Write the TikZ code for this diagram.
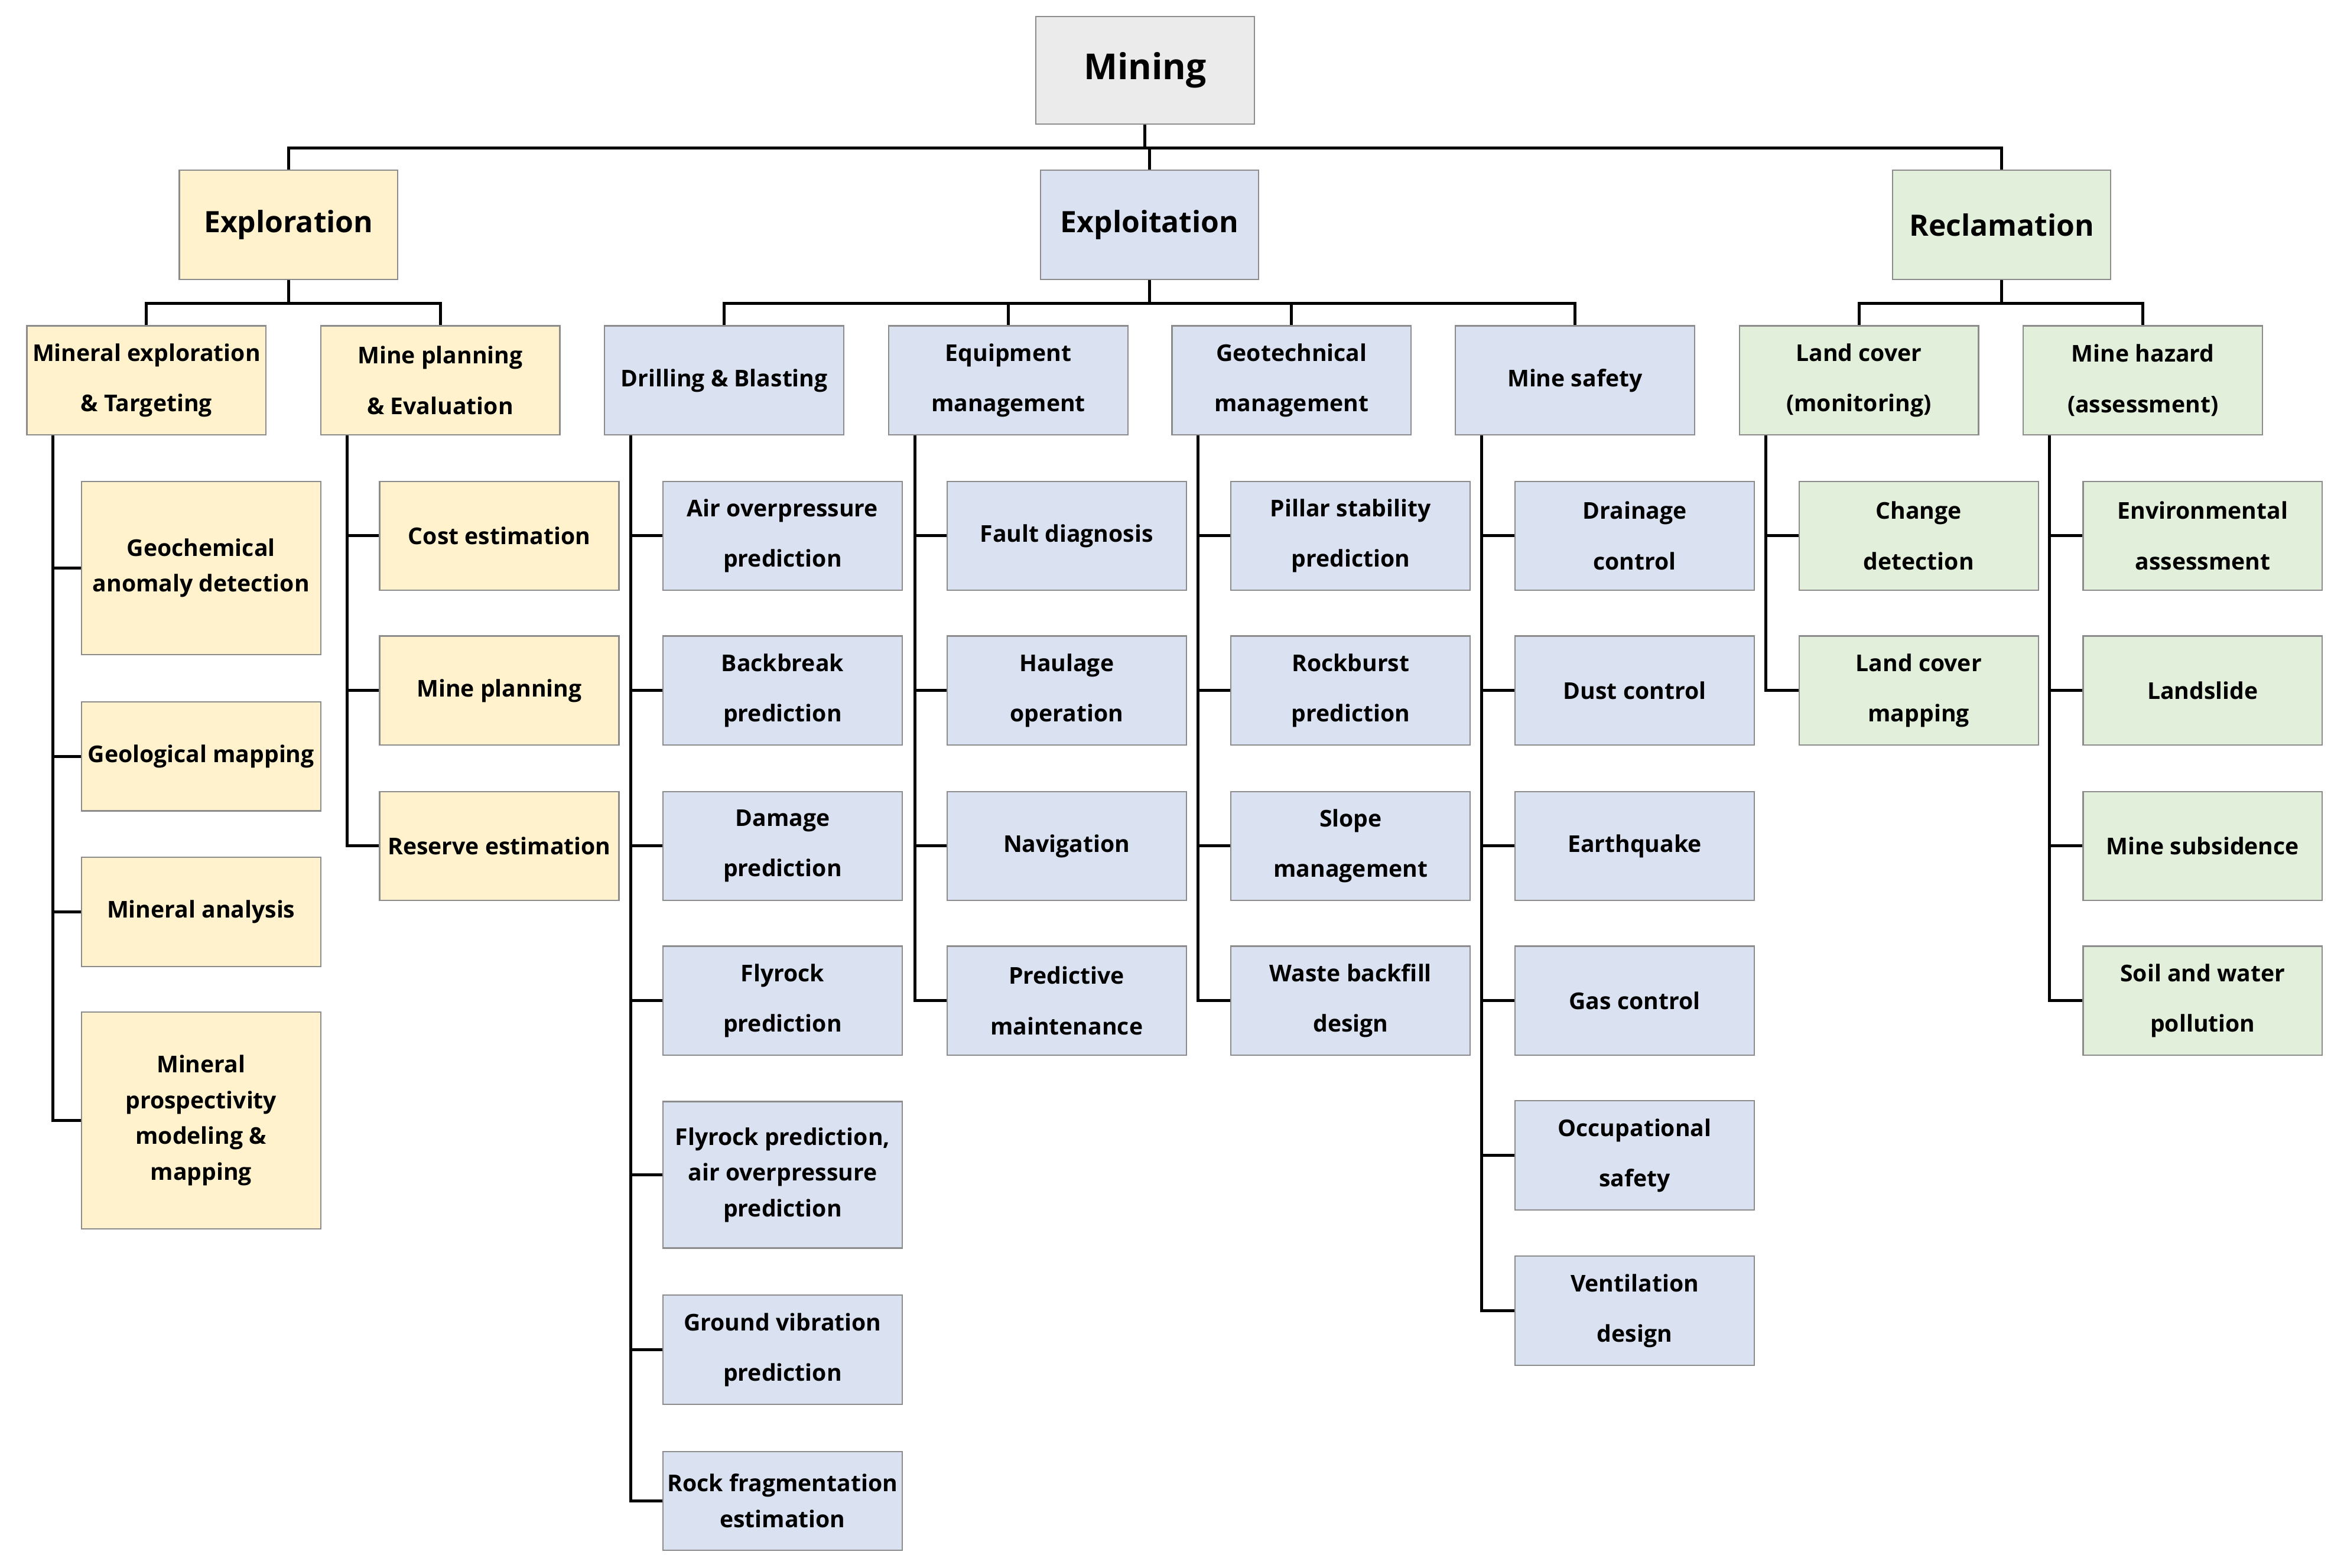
\documentclass[tikz,border=0pt]{standalone}
\usepackage{fontspec}
\setmainfont{Open Sans}
\begin{document}
\begin{tikzpicture}[x=0.025cm,y=-0.025cm,
 box/.style={draw=black!45,line width=0.6pt,align=center,inner sep=1pt,font=\bfseries\fontsize{11}{24}\selectfont,minimum width=4cm,minimum height=1.825cm},
 tall/.style={font=\bfseries\fontsize{11}{17}\selectfont},
 hdr/.style={box,minimum width=3.65cm,font=\bfseries\fontsize{14}{17}\selectfont},
 yb/.style={fill=yellow!20!orange!6!white,fill=yellowbox},
 bb/.style={fill=bluebox},
 gb/.style={fill=greenbox},
 ln/.style={line width=1.4pt}]
\definecolor{yellowbox}{HTML}{FFF2CC}
\definecolor{bluebox}{HTML}{DAE1F1}
\definecolor{greenbox}{HTML}{E2EFDA}
\useasboundingbox (0,0) rectangle (1568,1049);
% level 0/1
\node[hdr,fill=black!8,minimum height=1.8cm,font=\bfseries\fontsize{17}{20}\selectfont] (mining) at (766,47) {Mining};
\node[hdr,fill=yellowbox] (expl) at (193,150.5) {Exploration};
\node[hdr,fill=bluebox] (expt) at (769,150.5) {Exploitation};
\node[hdr,fill=greenbox] (recl) at (1339,150.5) {Reclamation};
\coordinate (bus) at (766,99);
\draw[ln] (mining.south) -- (bus);
\draw[ln] (expl.north) |- (bus) -| (recl.north);
\draw[ln] (bus) -| (expt.north);
% level 2
\node[box,fill=yellowbox] (me) at (98,254.5) {Mineral exploration\\\& Targeting};
\node[box,fill=yellowbox] (mp) at (294.5,254.5) {Mine planning\\\& Evaluation};
\node[box,fill=bluebox] (db) at (484.5,254.5) {Drilling \& Blasting};
\node[box,fill=bluebox] (em) at (674.5,254.5) {Equipment\\management};
\node[box,fill=bluebox] (gm) at (864,254.5) {Geotechnical\\management};
\node[box,fill=bluebox] (ms) at (1053.5,254.5) {Mine safety};
\node[box,fill=greenbox] (lc) at (1243.5,254.5) {Land cover\\(monitoring)};
\node[box,fill=greenbox] (mh) at (1433.5,254.5) {Mine hazard\\(assessment)};
\draw[ln] (expl.south) -- (193,203);
\draw[ln] (me.north) |- (193,203) -| (mp.north);
\draw[ln] (expt.south) -- (769,203);
\draw[ln] (db.north) |- (769,203) -| (ms.north);
\draw[ln] (em.north) -- (em.north |- 0,203);
\draw[ln] (gm.north) -- (gm.north |- 0,203);
\draw[ln] (recl.south) -- (1339,203);
\draw[ln] (lc.north) |- (1339,203) -| (mh.north);
% children
\newcommand{\kid}[6]{% name, parent, x, y, style, text
 \node[box,fill=#5] (#1) at (#3,#4) {#6};
 \draw[ln] ([xshift=0.45cm]#2.south west) |- (#1.west);}
\newcommand{\tkid}[7]{% name, parent, x, y, style, height, text
 \node[box,tall,fill=#5,minimum height=#6] (#1) at (#3,#4) {#7};
 \draw[ln] ([xshift=0.45cm]#2.south west) |- (#1.west);}
% exploration
\tkid{a1}{me}{134.5}{380}{yellowbox}{2.9cm}{Geochemical\\anomaly detection}
\kid{a2}{me}{134.5}{506}{yellowbox}{Geological mapping}
\kid{a3}{me}{134.5}{610}{yellowbox}{Mineral analysis}
\tkid{a4}{me}{134.5}{749.5}{yellowbox}{3.625cm}{Mineral\\prospectivity\\modeling \&\\mapping}
\kid{b1}{mp}{334}{358.5}{yellowbox}{Cost estimation}
\kid{b2}{mp}{334}{462}{yellowbox}{Mine planning}
\kid{b3}{mp}{334}{566}{yellowbox}{Reserve estimation}
% drilling
\kid{c1}{db}{523.5}{358.5}{bluebox}{Air overpressure\\prediction}
\kid{c2}{db}{523.5}{462}{bluebox}{Backbreak\\prediction}
\kid{c3}{db}{523.5}{566}{bluebox}{Damage\\prediction}
\kid{c4}{db}{523.5}{669.5}{bluebox}{Flyrock\\prediction}
\tkid{c5}{db}{523.5}{786}{bluebox}{2.45cm}{Flyrock prediction,\\air overpressure\\prediction}
\kid{c6}{db}{523.5}{903}{bluebox}{Ground vibration\\prediction}
\tkid{c7}{db}{523.5}{1004}{bluebox}{1.65cm}{Rock fragmentation\\estimation}
% equipment
\kid{d1}{em}{713.5}{358.5}{bluebox}{Fault diagnosis}
\kid{d2}{em}{713.5}{462}{bluebox}{Haulage\\operation}
\kid{d3}{em}{713.5}{566}{bluebox}{Navigation}
\kid{d4}{em}{713.5}{669.5}{bluebox}{Predictive\\maintenance}
% geotech
\kid{e1}{gm}{903.5}{358.5}{bluebox}{Pillar stability\\prediction}
\kid{e2}{gm}{903.5}{462}{bluebox}{Rockburst\\prediction}
\kid{e3}{gm}{903.5}{566}{bluebox}{Slope\\management}
\kid{e4}{gm}{903.5}{669.5}{bluebox}{Waste backfill\\design}
% safety
\kid{f1}{ms}{1093.5}{358.5}{bluebox}{Drainage\\control}
\kid{f2}{ms}{1093.5}{462}{bluebox}{Dust control}
\kid{f3}{ms}{1093.5}{566}{bluebox}{Earthquake}
\kid{f4}{ms}{1093.5}{669.5}{bluebox}{Gas control}
\kid{f5}{ms}{1093.5}{773}{bluebox}{Occupational\\safety}
\kid{f6}{ms}{1093.5}{877}{bluebox}{Ventilation\\design}
% land cover
\kid{g1}{lc}{1283.5}{358.5}{greenbox}{Change\\detection}
\kid{g2}{lc}{1283.5}{462}{greenbox}{Land cover\\mapping}
% hazard
\kid{h1}{mh}{1473.5}{358.5}{greenbox}{Environmental\\assessment}
\kid{h2}{mh}{1473.5}{462}{greenbox}{Landslide}
\kid{h3}{mh}{1473.5}{566}{greenbox}{Mine subsidence}
\kid{h4}{mh}{1473.5}{669.5}{greenbox}{Soil and water\\pollution}
\end{tikzpicture}
\end{document}
